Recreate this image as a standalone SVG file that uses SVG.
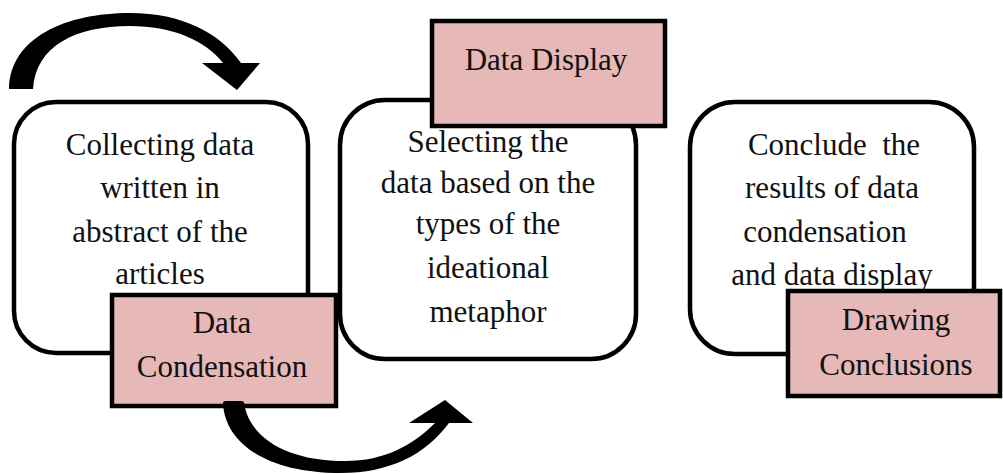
<svg xmlns="http://www.w3.org/2000/svg" width="1003" height="474" viewBox="0 0 1003 474">
  <style>
    .step { fill: #ffffff; stroke: #000000; stroke-width: 4.5; }
    .stage { fill: #e6b8b7; stroke: #000000; stroke-width: 4.5; }
    .label { font-family: "Liberation Serif", "Times New Roman", serif; font-size: 31px; fill: #111111; text-anchor: middle; }
    .flow { fill: #000000; stroke: none; }
  </style>
  <rect width="1003" height="474" fill="#ffffff"/>

  <!-- step boxes -->
  <g id="collecting">
    <rect class="step" x="14" y="102" width="294" height="251" rx="42" ry="42"/>
    <text class="label" x="160" y="155">Collecting data</text>
    <text class="label" x="160" y="198">written in</text>
    <text class="label" x="160" y="242">abstract of the</text>
    <text class="label" x="160" y="284">articles</text>
  </g>

  <g id="selecting">
    <rect class="step" x="340" y="100" width="296" height="259" rx="45" ry="45"/>
    <text class="label" x="488" y="152">Selecting the</text>
    <text class="label" x="488" y="193">data based on the</text>
    <text class="label" x="488" y="234">types of the</text>
    <text class="label" x="488" y="278">ideational</text>
    <text class="label" x="488" y="322">metaphor</text>
  </g>

  <g id="concluding">
    <rect class="step" x="690" y="102" width="284" height="252" rx="45" ry="45"/>
    <text class="label" x="834" y="155" xml:space="preserve">Conclude  the</text>
    <text class="label" x="832" y="198">results of data</text>
    <text class="label" x="825" y="242">condensation</text>
    <text class="label" x="832" y="285">and data display</text>
  </g>

  <!-- stage labels -->
  <g id="data-condensation">
    <rect class="stage" x="112" y="295" width="224" height="111"/>
    <text class="label" x="222" y="333">Data</text>
    <text class="label" x="222" y="377">Condensation</text>
  </g>

  <g id="data-display">
    <rect class="stage" x="432" y="21" width="233" height="105"/>
    <text class="label" x="546" y="70">Data Display</text>
  </g>

  <g id="drawing-conclusions">
    <rect class="stage" x="788" y="291" width="212" height="105"/>
    <text class="label" x="896" y="330">Drawing</text>
    <text class="label" x="896" y="375">Conclusions</text>
  </g>

  <!-- curved arrows -->
  <g id="connectors">
    <path class="flow" d="M 9 89 C 10 38 65 13 130 13 C 182 13 220 33 241 63 L 260 63 L 237 90 L 202 63 L 223 63 C 205 40 172 26 130 26 C 75 26 36 46 33 89 Z"/>
    <path class="flow" d="M 223 403 Q 223 401 226 401 L 241 401 Q 244 401 244 403 C 250 440 290 461 345 461 C 385 461 413 445 435 423 L 409 423 L 445 400 L 473 423 L 449 423 C 425 455 390 473 340 473 C 270 473 225 445 223 403 Z"/>
  </g>
</svg>
